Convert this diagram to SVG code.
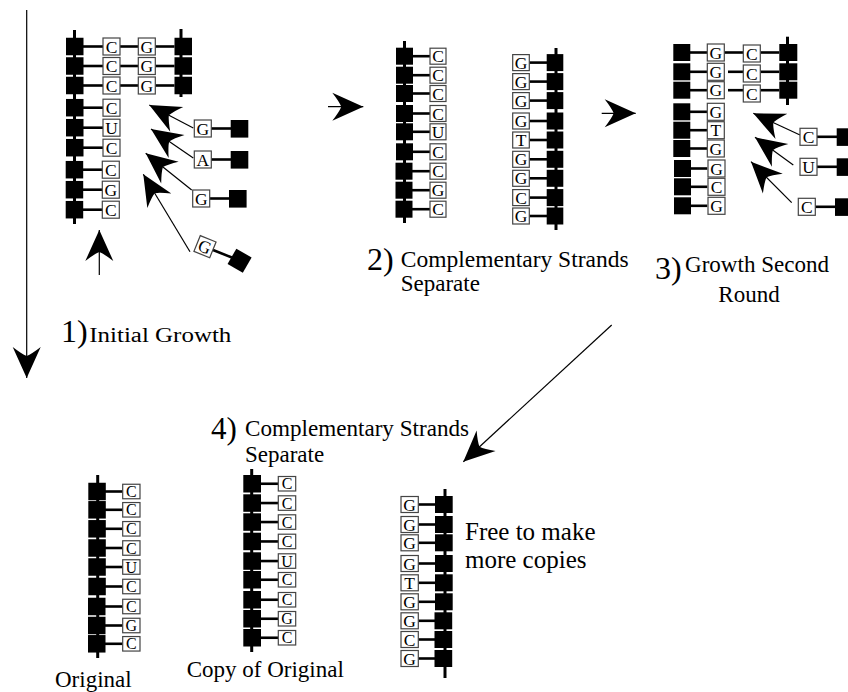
<svg xmlns="http://www.w3.org/2000/svg" width="848" height="692" viewBox="0 0 848 692">
<style>
.sq{fill:#000}
.bx{fill:#fff;stroke:#444;stroke-width:1.2}
.ln{stroke:#000;stroke-width:2.6}
.bb{stroke:#000;stroke-width:3}
.lt{font-family:"Liberation Serif","Times New Roman",serif;font-size:17.5px;text-anchor:middle;fill:#000}
.ls{font-family:"Liberation Serif","Times New Roman",serif;font-size:16px;text-anchor:middle;fill:#000}
.ar{stroke:#000;stroke-width:1.2;fill:none;marker-end:url(#ah)}
.tx{font-family:"Liberation Serif","Times New Roman",serif;font-size:23px;fill:#000}
.num{font-family:"Liberation Serif","Times New Roman",serif;font-size:32px;fill:#000}
</style>
<defs>
<marker id="ah" markerUnits="userSpaceOnUse" orient="auto" overflow="visible" viewBox="-35 -20 40 40" markerWidth="40" markerHeight="40" refX="0" refY="0">
<path d="M0,0 L-31,-14 Q-24,-5 -22,0 Q-24,5 -31,14 Z" fill="#000"/>
</marker>
</defs>

<g id="connectors">
<line class="ar" x1="26.7" y1="10" x2="26.7" y2="378"/>
<line class="ar" x1="99.3" y1="275" x2="99.3" y2="230"/>
<line class="ar" x1="193.3" y1="128" x2="149.3" y2="105"/>
<line class="ar" x1="193.3" y1="158" x2="151" y2="129"/>
<line class="ar" x1="191.7" y1="190" x2="145.7" y2="153.3"/>
<line class="ar" x1="190" y1="251.7" x2="143.3" y2="174.3"/>
<line class="ar" x1="328" y1="106.7" x2="363.3" y2="106.7"/>
<line class="ar" x1="601.7" y1="113.3" x2="635.7" y2="113.3"/>
<line class="ar" x1="800" y1="135" x2="753.3" y2="113.3"/>
<line class="ar" x1="793.3" y1="165" x2="755" y2="137.3"/>
<line class="ar" x1="791.7" y1="202.7" x2="751" y2="161.7"/>
<line class="ar" x1="611.7" y1="325" x2="463.3" y2="461.7"/>
</g>

<g id="strand-1">
<line class="bb" x1="74.5" y1="30" x2="74.5" y2="224"/>
<line class="bb" x1="181" y1="29" x2="181" y2="97"/>
<g class="sq">
<rect x="66" y="37.75" width="17.5" height="17.5"/>
<rect x="66" y="57.25" width="17.5" height="17.5"/>
<rect x="66" y="76.75" width="17.5" height="17.5"/>
<rect x="66" y="98.95" width="17.5" height="17.5"/>
<rect x="66" y="118.95" width="17.5" height="17.5"/>
<rect x="66" y="138.95" width="17.5" height="17.5"/>
<rect x="65.7" y="160.95" width="17.5" height="17.5"/>
<rect x="65.7" y="180.95" width="17.5" height="17.5"/>
<rect x="65.7" y="200.95" width="17.5" height="17.5"/>
<rect x="174.5" y="37.75" width="17.5" height="17.5"/>
<rect x="174.5" y="57.25" width="17.5" height="17.5"/>
<rect x="174.5" y="76.75" width="17.5" height="17.5"/>
</g>
<g class="ln">
<line x1="83" y1="46.5" x2="103" y2="46.5"/>
<line x1="83" y1="66" x2="103" y2="66"/>
<line x1="83" y1="85.5" x2="103" y2="85.5"/>
<line x1="83" y1="107.7" x2="103" y2="107.7"/>
<line x1="83" y1="127.7" x2="103" y2="127.7"/>
<line x1="83" y1="147.7" x2="103" y2="147.7"/>
<line x1="83" y1="169.7" x2="103" y2="169.7"/>
<line x1="83" y1="189.7" x2="103" y2="189.7"/>
<line x1="83" y1="209.7" x2="103" y2="209.7"/>
<line x1="120" y1="46.5" x2="138.3" y2="46.5"/>
<line x1="120" y1="66" x2="138.3" y2="66"/>
<line x1="120" y1="85.5" x2="138.3" y2="85.5"/>
<line x1="155.3" y1="46.5" x2="174.5" y2="46.5"/>
<line x1="155.3" y1="66" x2="174.5" y2="66"/>
<line x1="155.3" y1="85.5" x2="174.5" y2="85.5"/>
</g>
<g class="bx">
<rect x="103" y="38" width="17" height="17"/>
<rect x="103" y="57.5" width="17" height="17"/>
<rect x="103" y="77" width="17" height="17"/>
<rect x="103" y="99.2" width="17" height="17"/>
<rect x="103" y="119.2" width="17" height="17"/>
<rect x="103" y="139.2" width="17" height="17"/>
<rect x="102.3" y="161.2" width="17" height="17"/>
<rect x="102.3" y="181.2" width="17" height="17"/>
<rect x="102.3" y="201.2" width="17" height="17"/>
<rect x="138.3" y="38" width="17" height="17"/>
<rect x="138.3" y="57.5" width="17" height="17"/>
<rect x="138.3" y="77" width="17" height="17"/>
</g>
<g class="lt">
<text x="111.5" y="52.6">C</text>
<text x="111.5" y="72.1">C</text>
<text x="111.5" y="91.6">C</text>
<text x="111.5" y="113.8">C</text>
<text x="111.5" y="133.8">U</text>
<text x="111.5" y="153.8">C</text>
<text x="110.8" y="175.8">C</text>
<text x="110.8" y="195.8">G</text>
<text x="110.8" y="215.8">C</text>
<text x="146.8" y="52.6">G</text>
<text x="146.8" y="72.1">G</text>
<text x="146.8" y="91.6">G</text>
</g>
</g>

<g id="free-1">
<line class="ln" x1="211" y1="128.5" x2="231" y2="128.5"/>
<rect class="bx" x="194.3" y="120" width="17" height="17"/>
<rect class="sq" x="230.7" y="120" width="17.6" height="17.6"/>
<text class="lt" x="202.8" y="134.6">G</text>
<line class="ln" x1="211" y1="159.5" x2="231" y2="159.5"/>
<rect class="bx" x="194.3" y="151" width="17" height="17"/>
<rect class="sq" x="230.7" y="151" width="17.6" height="17.6"/>
<text class="lt" x="202.8" y="165.6">A</text>
<line class="ln" x1="209.5" y1="198.5" x2="229.5" y2="198.5"/>
<rect class="bx" x="192.7" y="190" width="17" height="17"/>
<rect class="sq" x="229" y="190" width="17.6" height="17.6"/>
<text class="lt" x="201.2" y="204.6">G</text>
<g transform="translate(205,246.7) rotate(22)">
<line class="ln" x1="8" y1="0" x2="29" y2="0"/>
<rect class="bx" x="-8.5" y="-8.5" width="17" height="17"/>
<rect class="sq" x="28.5" y="-8.8" width="17.6" height="17.6" transform="rotate(8 37.3 0)"/>
<text class="lt" x="0" y="6.1">G</text>
</g>
</g>

<g id="strand-2a">
<line class="bb" x1="404.5" y1="41" x2="404.5" y2="223"/>
<g class="sq">
<rect x="396" y="47.7" width="17" height="17"/>
<rect x="396" y="66.7" width="17" height="17"/>
<rect x="396" y="85" width="17" height="17"/>
<rect x="396" y="105" width="17" height="17"/>
<rect x="396" y="123.3" width="17" height="17"/>
<rect x="396" y="143.3" width="17" height="17"/>
<rect x="395.5" y="162.7" width="17" height="17"/>
<rect x="395.5" y="181.7" width="17" height="17"/>
<rect x="395.5" y="200.7" width="17" height="17"/>
</g>
<g class="ln">
<line x1="412" y1="56.2" x2="430" y2="56.2"/>
<line x1="412" y1="75.2" x2="430" y2="75.2"/>
<line x1="412" y1="93.5" x2="430" y2="93.5"/>
<line x1="412" y1="113.5" x2="430" y2="113.5"/>
<line x1="412" y1="131.8" x2="430" y2="131.8"/>
<line x1="412" y1="151.8" x2="430" y2="151.8"/>
<line x1="412" y1="171.2" x2="430" y2="171.2"/>
<line x1="412" y1="190.2" x2="430" y2="190.2"/>
<line x1="412" y1="209.2" x2="430" y2="209.2"/>
</g>
<g class="bx">
<rect x="430" y="48.2" width="16" height="16"/>
<rect x="430" y="67.2" width="16" height="16"/>
<rect x="430" y="85.5" width="16" height="16"/>
<rect x="430" y="105.5" width="16" height="16"/>
<rect x="430" y="123.8" width="16" height="16"/>
<rect x="430" y="143.8" width="16" height="16"/>
<rect x="430" y="163.2" width="16" height="16"/>
<rect x="430" y="182.2" width="16" height="16"/>
<rect x="430" y="201.2" width="16" height="16"/>
</g>
<g class="lt">
<text x="438" y="62.2">C</text>
<text x="438" y="81.2">C</text>
<text x="438" y="99.5">C</text>
<text x="438" y="119.5">C</text>
<text x="438" y="137.8">U</text>
<text x="438" y="157.8">C</text>
<text x="438" y="177.2">C</text>
<text x="438" y="196.2">G</text>
<text x="438" y="215.2">C</text>
</g>
</g>

<g id="strand-2b">
<line class="bb" x1="556" y1="48" x2="556" y2="230"/>
<g class="sq">
<rect x="546.7" y="54.1" width="16.6" height="17"/>
<rect x="546.7" y="73.1" width="16.6" height="17"/>
<rect x="546.7" y="92.1" width="16.6" height="17"/>
<rect x="546.7" y="112.5" width="16.6" height="17"/>
<rect x="546.7" y="131.5" width="16.6" height="17"/>
<rect x="546.7" y="150.8" width="16.6" height="17"/>
<rect x="546.7" y="169.8" width="16.6" height="17"/>
<rect x="546.7" y="189.1" width="16.6" height="17"/>
<rect x="546.7" y="207.5" width="16.6" height="17"/>
</g>
<g class="ln">
<line x1="529.3" y1="62.6" x2="547.7" y2="62.6"/>
<line x1="529.3" y1="81.6" x2="547.7" y2="81.6"/>
<line x1="529.3" y1="100.6" x2="547.7" y2="100.6"/>
<line x1="529.3" y1="121" x2="547.7" y2="121"/>
<line x1="529.3" y1="140" x2="547.7" y2="140"/>
<line x1="529.3" y1="159.3" x2="547.7" y2="159.3"/>
<line x1="529.3" y1="178.3" x2="547.7" y2="178.3"/>
<line x1="529.3" y1="197.6" x2="547.7" y2="197.6"/>
<line x1="529.3" y1="216" x2="547.7" y2="216"/>
</g>
<g class="bx">
<rect x="512.7" y="54.6" width="16.6" height="16"/>
<rect x="512.7" y="73.6" width="16.6" height="16"/>
<rect x="512.7" y="92.6" width="16.6" height="16"/>
<rect x="512.7" y="113" width="16.6" height="16"/>
<rect x="512.7" y="132" width="16.6" height="16"/>
<rect x="512.7" y="151.3" width="16.6" height="16"/>
<rect x="512.7" y="170.3" width="16.6" height="16"/>
<rect x="512.7" y="189.6" width="16.6" height="16"/>
<rect x="512.7" y="208" width="16.6" height="16"/>
</g>
<g class="lt">
<text x="521" y="68.6">G</text>
<text x="521" y="87.6">G</text>
<text x="521" y="106.6">G</text>
<text x="521" y="127">G</text>
<text x="521" y="146">T</text>
<text x="521" y="165.3">G</text>
<text x="521" y="184.3">G</text>
<text x="521" y="203.6">C</text>
<text x="521" y="222">G</text>
</g>
</g>

<g id="strand-3">
<line class="bb" x1="787.5" y1="36.7" x2="787.5" y2="105"/>
<g class="sq">
<rect x="673.3" y="44" width="17" height="17"/>
<rect x="673.3" y="63.3" width="17" height="17"/>
<rect x="673.3" y="81.7" width="17" height="17"/>
<rect x="673.3" y="103.3" width="17" height="17"/>
<rect x="673.3" y="121.7" width="17" height="17"/>
<rect x="673.3" y="140" width="17" height="17"/>
<rect x="674" y="160" width="17" height="17"/>
<rect x="674" y="178.3" width="17" height="17"/>
<rect x="674" y="197.3" width="17" height="17"/>
<rect x="779.3" y="44" width="18" height="17"/>
<rect x="779.3" y="63.3" width="18" height="17"/>
<rect x="779.3" y="81.7" width="18" height="17"/>
</g>
<g class="ln">
<line x1="690" y1="52.5" x2="707.3" y2="52.5"/>
<line x1="690" y1="71.8" x2="707.3" y2="71.8"/>
<line x1="690" y1="90.2" x2="707.3" y2="90.2"/>
<line x1="690" y1="111.8" x2="707.3" y2="111.8"/>
<line x1="690" y1="130.2" x2="707.3" y2="130.2"/>
<line x1="690" y1="148.5" x2="707.3" y2="148.5"/>
<line x1="690" y1="168.5" x2="707.3" y2="168.5"/>
<line x1="690" y1="186.8" x2="707.3" y2="186.8"/>
<line x1="690" y1="205.8" x2="707.3" y2="205.8"/>
<line x1="724.3" y1="52.5" x2="743.3" y2="52.5"/>
<line x1="728" y1="71.8" x2="743.3" y2="71.8"/>
<line x1="728" y1="90.2" x2="743.3" y2="90.2"/>
<line x1="760.3" y1="52.5" x2="779.3" y2="52.5"/>
<line x1="760.3" y1="71.8" x2="779.3" y2="71.8"/>
<line x1="760.3" y1="90.2" x2="779.3" y2="90.2"/>
</g>
<g class="bx">
<rect x="707.3" y="44" width="17" height="17"/>
<rect x="707.3" y="63.3" width="17" height="17"/>
<rect x="707.3" y="81.7" width="17" height="17"/>
<rect x="707.3" y="103.3" width="17" height="17"/>
<rect x="707.3" y="121.7" width="17" height="17"/>
<rect x="707.3" y="140" width="17" height="17"/>
<rect x="708" y="160" width="17" height="17"/>
<rect x="708" y="178.3" width="17" height="17"/>
<rect x="708" y="197.3" width="17" height="17"/>
<rect x="743.3" y="45" width="17" height="17"/>
<rect x="743.3" y="65" width="17" height="17"/>
<rect x="743.3" y="85" width="17" height="17"/>
</g>
<g class="lt">
<text x="715.8" y="58.6">G</text>
<text x="715.8" y="77.9">G</text>
<text x="715.8" y="96.3">G</text>
<text x="715.8" y="117.9">G</text>
<text x="715.8" y="136.3">T</text>
<text x="715.8" y="154.6">G</text>
<text x="716.5" y="174.6">G</text>
<text x="716.5" y="192.9">C</text>
<text x="716.5" y="211.9">G</text>
<text x="751.8" y="59.6">C</text>
<text x="751.8" y="79.6">C</text>
<text x="751.8" y="99.6">C</text>
</g>
</g>

<g id="free-3">
<line class="ln" x1="817" y1="136.8" x2="837" y2="136.8"/>
<rect class="bx" x="800" y="128.3" width="17" height="17"/>
<rect class="sq" x="836.7" y="128.3" width="17.6" height="17.6"/>
<text class="lt" x="808.5" y="142.9">C</text>
<line class="ln" x1="817" y1="166.8" x2="837" y2="166.8"/>
<rect class="bx" x="800" y="158.3" width="17" height="17"/>
<rect class="sq" x="836.7" y="158.3" width="17.6" height="17.6"/>
<text class="lt" x="808.5" y="172.9">U</text>
<line class="ln" x1="815.3" y1="206.8" x2="835.3" y2="206.8"/>
<rect class="bx" x="798.3" y="198.3" width="17" height="17"/>
<rect class="sq" x="835" y="198.3" width="17.6" height="17.6"/>
<text class="lt" x="806.8" y="212.9">C</text>
</g>

<g id="strand-original">
<line class="bb" x1="97.7" y1="475" x2="97.7" y2="658"/>
<g class="sq">
<rect x="88.3" y="482.75" width="17.5" height="17.5"/>
<rect x="88.3" y="501.05" width="17.5" height="17.5"/>
<rect x="88.3" y="520.05" width="17.5" height="17.5"/>
<rect x="88.3" y="539.25" width="17.5" height="17.5"/>
<rect x="88.3" y="558.25" width="17.5" height="17.5"/>
<rect x="88.3" y="577.75" width="17.5" height="17.5"/>
<rect x="88" y="597.75" width="17.5" height="17.5"/>
<rect x="88" y="616.75" width="17.5" height="17.5"/>
<rect x="88" y="635.05" width="17.5" height="17.5"/>
</g>
<g class="ln">
<line x1="105" y1="491.5" x2="122.7" y2="491.5"/>
<line x1="105" y1="509.8" x2="122.7" y2="509.8"/>
<line x1="105" y1="528.8" x2="122.7" y2="528.8"/>
<line x1="105" y1="548" x2="122.7" y2="548"/>
<line x1="105" y1="567" x2="122.7" y2="567"/>
<line x1="105" y1="586.5" x2="122.7" y2="586.5"/>
<line x1="105" y1="606.5" x2="122.7" y2="606.5"/>
<line x1="105" y1="625.5" x2="122.7" y2="625.5"/>
<line x1="105" y1="643.8" x2="122.7" y2="643.8"/>
</g>
<g class="bx">
<rect x="122.7" y="484.25" width="17.3" height="14.5"/>
<rect x="122.7" y="502.55" width="17.3" height="14.5"/>
<rect x="122.7" y="521.55" width="17.3" height="14.5"/>
<rect x="122.7" y="540.75" width="17.3" height="14.5"/>
<rect x="122.7" y="559.75" width="17.3" height="14.5"/>
<rect x="122.7" y="579.25" width="17.3" height="14.5"/>
<rect x="122.7" y="599.25" width="17.3" height="14.5"/>
<rect x="122.7" y="618.25" width="17.3" height="14.5"/>
<rect x="122.7" y="636.55" width="17.3" height="14.5"/>
</g>
<g class="ls">
<text x="131.3" y="497">C</text>
<text x="131.3" y="515.3">C</text>
<text x="131.3" y="534.3">C</text>
<text x="131.3" y="553.5">C</text>
<text x="131.3" y="572.5">U</text>
<text x="131.3" y="592">C</text>
<text x="131.3" y="612">C</text>
<text x="131.3" y="631">G</text>
<text x="131.3" y="649.3">C</text>
</g>
</g>

<g id="strand-copy">
<line class="bb" x1="251.7" y1="469" x2="251.7" y2="652"/>
<g class="sq">
<rect x="243.3" y="475" width="17.7" height="17.5"/>
<rect x="243.3" y="494.3" width="17.7" height="17.5"/>
<rect x="243.3" y="513.3" width="17.7" height="17.5"/>
<rect x="243.3" y="532.7" width="17.7" height="17.5"/>
<rect x="243.3" y="552.3" width="17.7" height="17.5"/>
<rect x="243.3" y="571" width="17.7" height="17.5"/>
<rect x="243.3" y="591" width="17.7" height="17.5"/>
<rect x="243.3" y="610" width="17.7" height="17.5"/>
<rect x="243.3" y="629" width="17.7" height="17.5"/>
</g>
<g class="ln">
<line x1="260" y1="483.75" x2="278.3" y2="483.75"/>
<line x1="260" y1="503.05" x2="278.3" y2="503.05"/>
<line x1="260" y1="522.05" x2="278.3" y2="522.05"/>
<line x1="260" y1="541.45" x2="278.3" y2="541.45"/>
<line x1="260" y1="561.05" x2="278.3" y2="561.05"/>
<line x1="260" y1="579.75" x2="278.3" y2="579.75"/>
<line x1="260" y1="599.75" x2="278.3" y2="599.75"/>
<line x1="260" y1="618.75" x2="278.3" y2="618.75"/>
<line x1="260" y1="637.75" x2="278.3" y2="637.75"/>
</g>
<g class="bx">
<rect x="278.3" y="476.5" width="17.4" height="14.5"/>
<rect x="278.3" y="495.8" width="17.4" height="14.5"/>
<rect x="278.3" y="514.8" width="17.4" height="14.5"/>
<rect x="278.3" y="534.2" width="17.4" height="14.5"/>
<rect x="278.3" y="553.8" width="17.4" height="14.5"/>
<rect x="278.3" y="572.5" width="17.4" height="14.5"/>
<rect x="278.3" y="592.5" width="17.4" height="14.5"/>
<rect x="278.3" y="611.5" width="17.4" height="14.5"/>
<rect x="278.3" y="630.5" width="17.4" height="14.5"/>
</g>
<g class="ls">
<text x="287" y="489.25">C</text>
<text x="287" y="508.55">C</text>
<text x="287" y="527.55">C</text>
<text x="287" y="546.95">C</text>
<text x="287" y="566.55">U</text>
<text x="287" y="585.25">C</text>
<text x="287" y="605.25">C</text>
<text x="287" y="624.25">G</text>
<text x="287" y="643.25">C</text>
</g>
</g>

<g id="strand-free">
<line class="bb" x1="445" y1="489" x2="445" y2="678"/>
<g class="sq">
<rect x="435" y="496" width="17.7" height="17"/>
<rect x="435" y="516" width="17.7" height="17"/>
<rect x="435" y="534.3" width="17.7" height="17"/>
<rect x="435" y="555" width="17.7" height="17"/>
<rect x="435" y="574.3" width="17.7" height="17"/>
<rect x="435" y="593.3" width="17.7" height="17"/>
<rect x="434.5" y="612.3" width="17.7" height="17"/>
<rect x="434.5" y="631" width="17.7" height="17"/>
<rect x="434.5" y="650" width="17.7" height="17"/>
</g>
<g class="ln">
<line x1="418.3" y1="504.5" x2="436" y2="504.5"/>
<line x1="418.3" y1="524.5" x2="436" y2="524.5"/>
<line x1="418.3" y1="542.8" x2="436" y2="542.8"/>
<line x1="418.3" y1="563.5" x2="436" y2="563.5"/>
<line x1="418.3" y1="582.8" x2="436" y2="582.8"/>
<line x1="418.3" y1="601.8" x2="436" y2="601.8"/>
<line x1="418.3" y1="620.8" x2="436" y2="620.8"/>
<line x1="418.3" y1="639.5" x2="436" y2="639.5"/>
<line x1="418.3" y1="658.5" x2="436" y2="658.5"/>
</g>
<g class="bx">
<rect x="401" y="496.5" width="17.3" height="16"/>
<rect x="401" y="516.5" width="17.3" height="16"/>
<rect x="401" y="534.8" width="17.3" height="16"/>
<rect x="401" y="555.5" width="17.3" height="16"/>
<rect x="401" y="574.8" width="17.3" height="16"/>
<rect x="401" y="593.8" width="17.3" height="16"/>
<rect x="401" y="612.8" width="17.3" height="16"/>
<rect x="401" y="631.5" width="17.3" height="16"/>
<rect x="401" y="650.5" width="17.3" height="16"/>
</g>
<g class="lt">
<text x="409.6" y="510.5">G</text>
<text x="409.6" y="530.5">G</text>
<text x="409.6" y="548.8">G</text>
<text x="409.6" y="569.5">G</text>
<text x="409.6" y="588.8">T</text>
<text x="409.6" y="607.8">G</text>
<text x="409.6" y="626.8">G</text>
<text x="409.6" y="645.5">C</text>
<text x="409.6" y="664.5">G</text>
</g>
</g>

<g id="labels">
<text class="num" x="61" y="342">1)</text>
<text class="tx" x="89.3" y="341.7" style="font-size:20px" textLength="142" lengthAdjust="spacingAndGlyphs">Initial Growth</text>
<text class="num" x="367" y="270">2)</text>
<text class="tx" x="400.7" y="266.7" textLength="228" lengthAdjust="spacingAndGlyphs">Complementary Strands</text>
<text class="tx" x="400.7" y="291">Separate</text>
<text class="num" x="655" y="279">3)</text>
<text class="tx" x="685" y="271.7" textLength="144" lengthAdjust="spacingAndGlyphs">Growth Second</text>
<text class="tx" x="718.3" y="301.7">Round</text>
<text class="num" x="211" y="439" style="font-size:31px">4)</text>
<text class="tx" x="245" y="436" textLength="224" lengthAdjust="spacingAndGlyphs">Complementary Strands</text>
<text class="tx" x="245" y="461.7">Separate</text>
<text class="tx" x="465" y="540" style="font-size:25px">Free to make</text>
<text class="tx" x="465" y="568" style="font-size:25px">more copies</text>
<text class="tx" x="55" y="687">Original</text>
<text class="tx" x="186.7" y="677">Copy of Original</text>
</g>
</svg>
